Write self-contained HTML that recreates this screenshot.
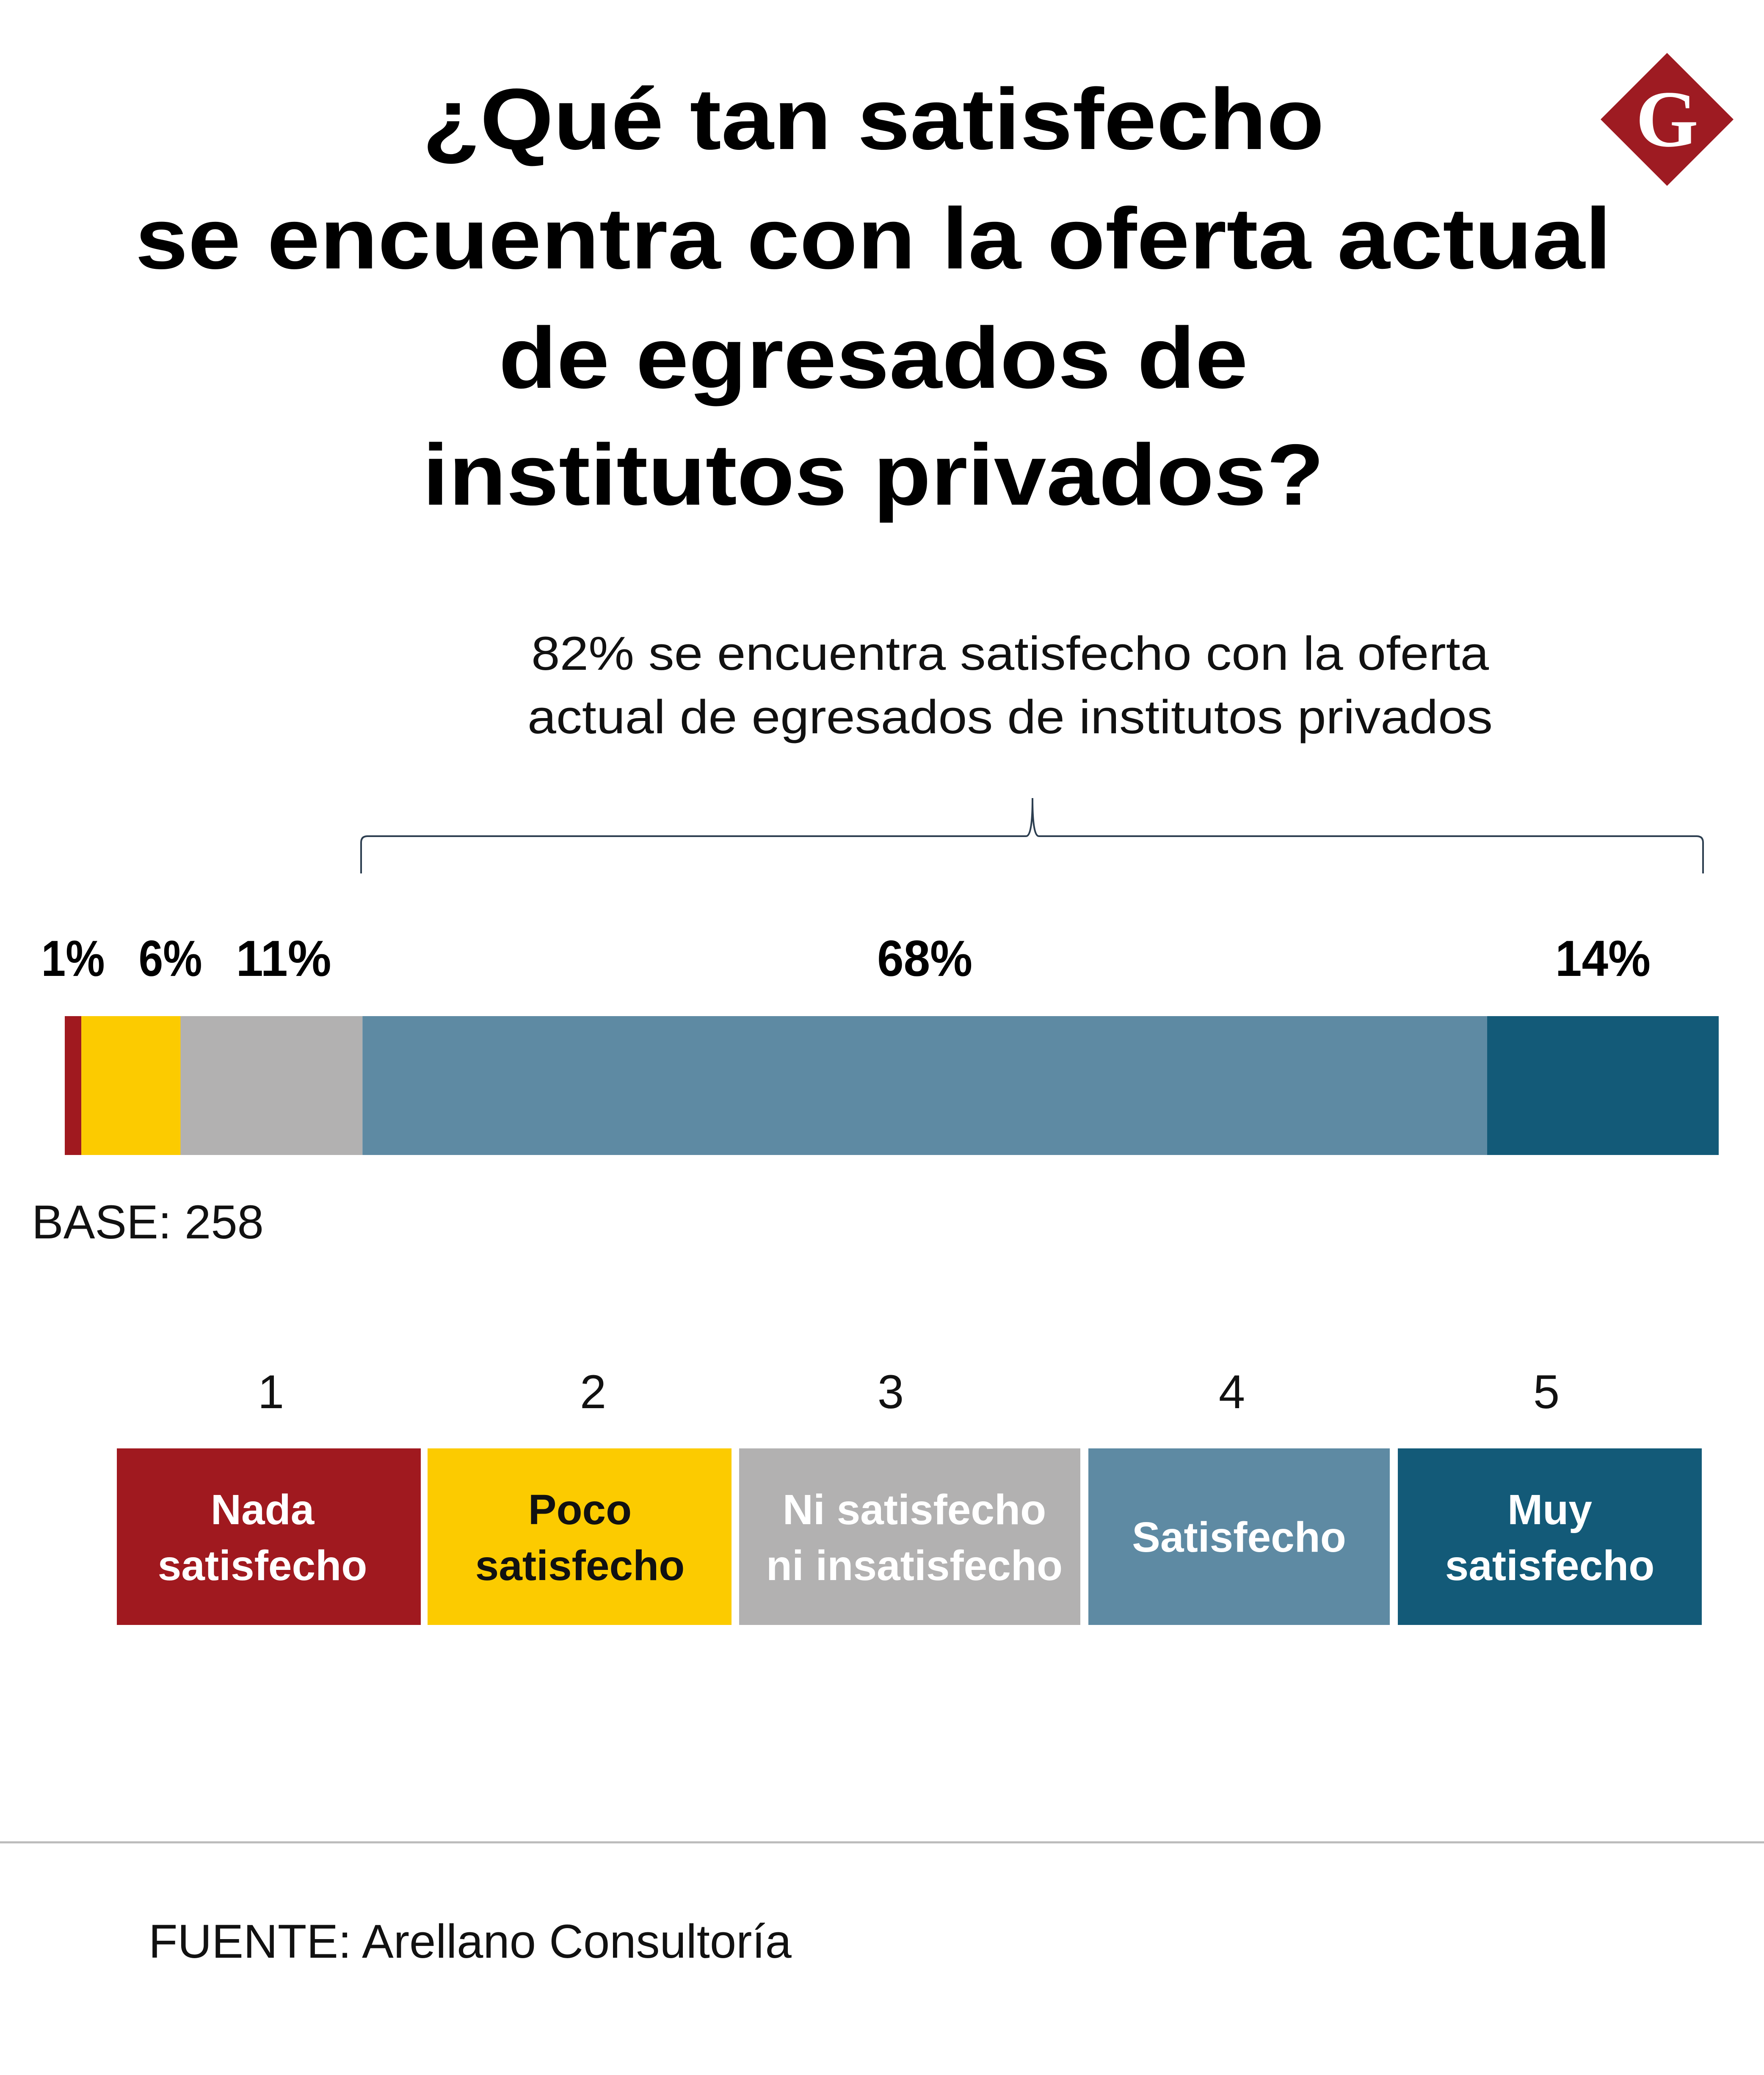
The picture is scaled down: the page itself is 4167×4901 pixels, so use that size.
<!DOCTYPE html>
<html><head><meta charset="utf-8"><style>
html,body{margin:0;padding:0;background:#fff;}
svg{display:block;font-family:"Liberation Sans",sans-serif;}
</style></head><body>
<svg id="chart" width="4167" height="4901" viewBox="0 0 4167 4901" xmlns="http://www.w3.org/2000/svg">
<rect width="4167" height="4901" fill="#fff"/>
<g font-weight="bold" font-size="205" text-anchor="middle" fill="#000">
<text x="2063" y="352" textLength="2130" lengthAdjust="spacingAndGlyphs">¿Qué tan satisfecho</text>
<text x="2063" y="634" textLength="3487" lengthAdjust="spacingAndGlyphs">se encuentra con la oferta actual</text>
<text x="2063" y="916" textLength="1770" lengthAdjust="spacingAndGlyphs">de egresados de</text>
<text x="2063" y="1192" textLength="2130" lengthAdjust="spacingAndGlyphs">institutos privados?</text>
</g>
<g>
<polygon points="3938,125 4095,282 3938,439 3781,282" fill="#9e1b22"/>
<text x="3938" y="345" text-anchor="middle" font-family="Liberation Serif,serif" font-weight="bold" font-size="190" fill="#fff">G</text>
</g>
<g font-size="112" text-anchor="middle" fill="#111">
<text x="2386" y="1582" textLength="2262" lengthAdjust="spacingAndGlyphs">82% se encuentra satisfecho con la oferta</text>
<text x="2386" y="1732" textLength="2280" lengthAdjust="spacingAndGlyphs">actual de egresados de institutos privados</text>
</g>
<path d="M853,2063 V1990 Q853,1975 868,1975 H2424 Q2439,1975 2439,1885 Q2439,1975 2454,1975 H4008 Q4023,1975 4023,1990 V2063" fill="none" stroke="#2c3e50" stroke-width="4"/>
<g id="bars"></g>
<g id="labels" font-weight="bold" font-size="120" fill="#000"></g>
<text x="75" y="2925" font-size="112" fill="#111">BASE: 258</text>
<g id="legend">
<rect x="276" y="3421" width="718" height="417" fill="#a0191f"/>
<rect x="1010" y="3421" width="718" height="417" fill="#fccb00"/>
<rect x="1746" y="3421" width="806" height="417" fill="#b2b1b1"/>
<rect x="2571" y="3421" width="712" height="417" fill="#5e8aa3"/>
<rect x="3302" y="3421" width="718" height="417" fill="#135a78"/>
<g font-size="112" fill="#111" text-anchor="middle">
<text x="640" y="3326">1</text>
<text x="1401" y="3326">2</text>
<text x="2104" y="3326">3</text>
<text x="2910" y="3326">4</text>
<text x="3653" y="3326">5</text>
</g>
<g font-size="100" font-weight="bold" text-anchor="middle" fill="#fff">
<text x="620" y="3600">Nada</text>
<text x="620" y="3732">satisfecho</text>
<text x="1370" y="3600" fill="#111">Poco</text>
<text x="1370" y="3732" fill="#111">satisfecho</text>
<text x="2160" y="3600">Ni satisfecho</text>
<text x="2160" y="3732">ni insatisfecho</text>
<text x="2927" y="3665">Satisfecho</text>
<text x="3661" y="3600">Muy</text>
<text x="3661" y="3732">satisfecho</text>
</g>
</g>
<rect x="0" y="4349" width="4167" height="5" fill="#bcbcbc"/>
<text x="351" y="4624" font-size="112" fill="#111">FUENTE: Arellano Consultoría</text>
</svg>
<script>
const categories = ["Nada satisfecho","Poco satisfecho","Ni satisfecho ni insatisfecho","Satisfecho","Muy satisfecho"];
const values = [1, 6, 11, 68, 14];
const valueLabels = ["1%","6%","11%","68%","14%"];
const colors = ["#a0191f","#fccb00","#b2b1b1","#5e8aa3","#135a78"];

const NS = "http://www.w3.org/2000/svg";
const barX0 = 153, barX1 = 4060, barY = 2400, barH = 328;
const total = values.reduce((a,b)=>a+b,0);
const xs = v => barX0 + (v/total)*(barX1-barX0);
const bars = document.getElementById('bars');
const labels = document.getElementById('labels');
let cum = 0, prevEnd = -1e9;
values.forEach((v,i)=>{
  const x0 = xs(cum), x1 = xs(cum+v);
  cum += v;
  const r = document.createElementNS(NS,'rect');
  r.setAttribute('x',x0); r.setAttribute('y',barY);
  r.setAttribute('width',x1-x0); r.setAttribute('height',barH);
  r.setAttribute('fill',colors[i]);
  
  
  bars.appendChild(r);
  const w = valueLabels[i].length*75;
  let start = Math.max((x0+x1)/2 - w/2, prevEnd + 80, 78);
  prevEnd = start + w;
  const t = document.createElementNS(NS,'text');
  t.setAttribute('x',start); t.setAttribute('y',2305);
  t.setAttribute('textLength',w); t.setAttribute('lengthAdjust','spacingAndGlyphs');
  t.textContent = valueLabels[i];
  
  
  labels.appendChild(t);
});
</script>
</body></html>
